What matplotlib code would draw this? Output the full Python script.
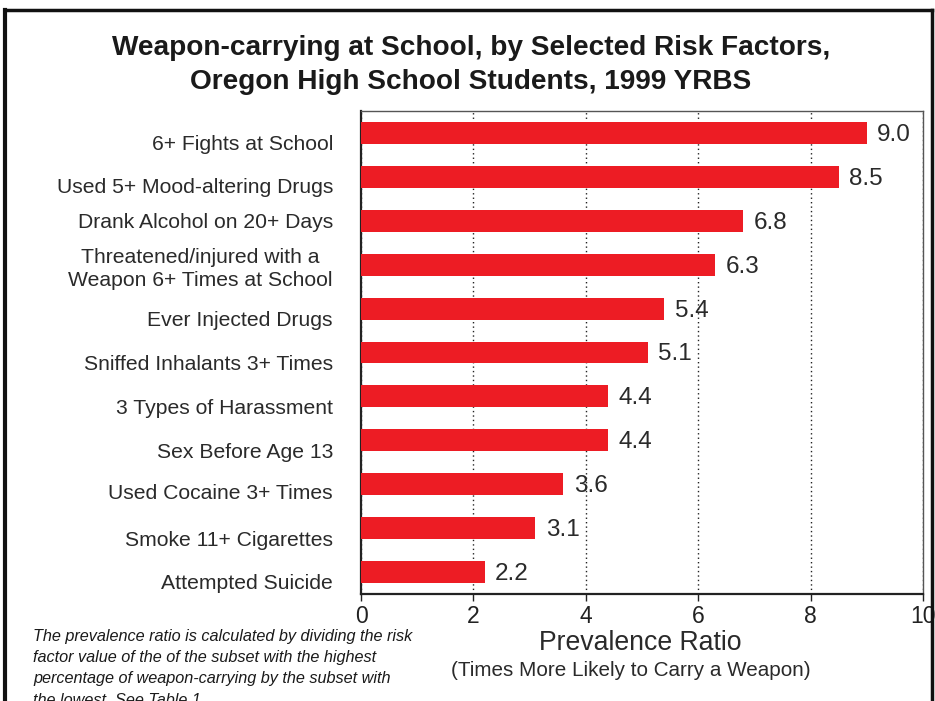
import matplotlib
matplotlib.use('Agg')
import matplotlib.pyplot as plt
from matplotlib.lines import Line2D

# Risk factors, top to bottom, and their prevalence ratios
factors = [
    '6+ Fights at School',
    'Used 5+ Mood-altering Drugs',
    'Drank Alcohol on 20+ Days',
    'Threatened/injured with a\nWeapon 6+ Times at School',
    'Ever Injected Drugs',
    'Sniffed Inhalants 3+ Times',
    '3 Types of Harassment',
    'Sex Before Age 13',
    'Used Cocaine 3+ Times',
    'Smoke 11+ Cigarettes',
    'Attempted Suicide',
]
ratios = [9.0, 8.5, 6.8, 6.3, 5.4, 5.1, 4.4, 4.4, 3.6, 3.1, 2.2]
xticks = [0, 2, 4, 6, 8, 10]

title = ('Weapon-carrying at School, by Selected Risk Factors,\n'
         'Oregon High School Students, 1999 YRBS')
note = ('The prevalence ratio is calculated by dividing the risk\n'
        'factor value of the of the subset with the highest\n'
        'percentage of weapon-carrying by the subset with\n'
        'the lowest. See Table 1.')

plt.rcParams['font.family'] = ['Liberation Sans', 'DejaVu Sans']

W, H, DPI = 935, 701, 100
fig = plt.figure(figsize=(W / DPI, H / DPI), dpi=DPI)
fig.patch.set_facecolor('white')

# plot area in pixels: x 361..923, y 111..594
ax = fig.add_axes([361 / W, 1 - 594 / H, 562 / W, 483 / H])

ypos = list(range(len(factors)))
ax.barh(ypos, ratios, height=0.5, color='#ED1C24', zorder=3)

ax.set_xlim(0, 10)
ax.set_ylim(len(factors) - 0.5, -0.5)
ax.set_xticks(xticks)
ax.set_xticklabels([str(t) for t in xticks], fontsize=16.5, color='#222222')
ax.tick_params(axis='x', length=5, width=1, pad=3, direction='out', color='#222222')
ax.set_yticks([])

ax.xaxis.grid(True, linestyle=(0, (1, 2.2)), color='#222222', linewidth=1.0, zorder=1)

for side in ('left', 'bottom'):
    ax.spines[side].set_color('#222222')
    ax.spines[side].set_linewidth(1.6)
for side in ('top', 'right'):
    ax.spines[side].set_color('#555555')
    ax.spines[side].set_linewidth(1.0)

# category labels sit a little below their bar, except the two
# that would crowd each other
label_dy = [0.27, 0.25, 0.045, 0.1, 0.27, 0.27, 0.28, 0.27, 0.22, 0.29, 0.27]
for y, lab, dy in zip(ypos, factors, label_dy):
    ax.text(-0.05, y + dy, lab, transform=ax.get_yaxis_transform(),
            ha='right', va='center', multialignment='center',
            fontsize=15.2, color='#2a2a2a', linespacing=1.3)

# value labels at the end of each bar
for y, v in zip(ypos, ratios):
    ax.annotate(f'{v:.1f}', xy=(v, y), xytext=(7.5, -1.4), textcoords='offset points',
                ha='left', va='center', fontsize=17.5, color='#2a2a2a')

fig.text(471 / W, 1 - 65 / H, title, ha='center', va='center',
         fontsize=20.2, fontweight='bold', color='#1a1a1a', linespacing=1.4)

fig.text(640 / W, 1 - 643 / H, 'Prevalence Ratio', ha='center', va='center',
         fontsize=19.2, color='#2a2a2a')
fig.text(631 / W, 1 - 670 / H, '(Times More Likely to Carry a Weapon)',
         ha='center', va='center', fontsize=14.9, color='#2a2a2a')

fig.text(33 / W, 1 - 629 / H, note, ha='left', va='top', fontsize=11.7,
         style='italic', color='#1a1a1a', linespacing=1.52)

# frame around the figure (open at the bottom)
frame = dict(color='#111111', transform=None)
fig.add_artist(Line2D([5, 5], [0, H - 10], linewidth=3.0, **frame))
fig.add_artist(Line2D([5, 932], [H - 10, H - 10], linewidth=2.5, **frame))
fig.add_artist(Line2D([932, 932], [0, H - 10], linewidth=2.5, **frame))

fig.savefig('out.png', dpi=DPI, facecolor='white')
